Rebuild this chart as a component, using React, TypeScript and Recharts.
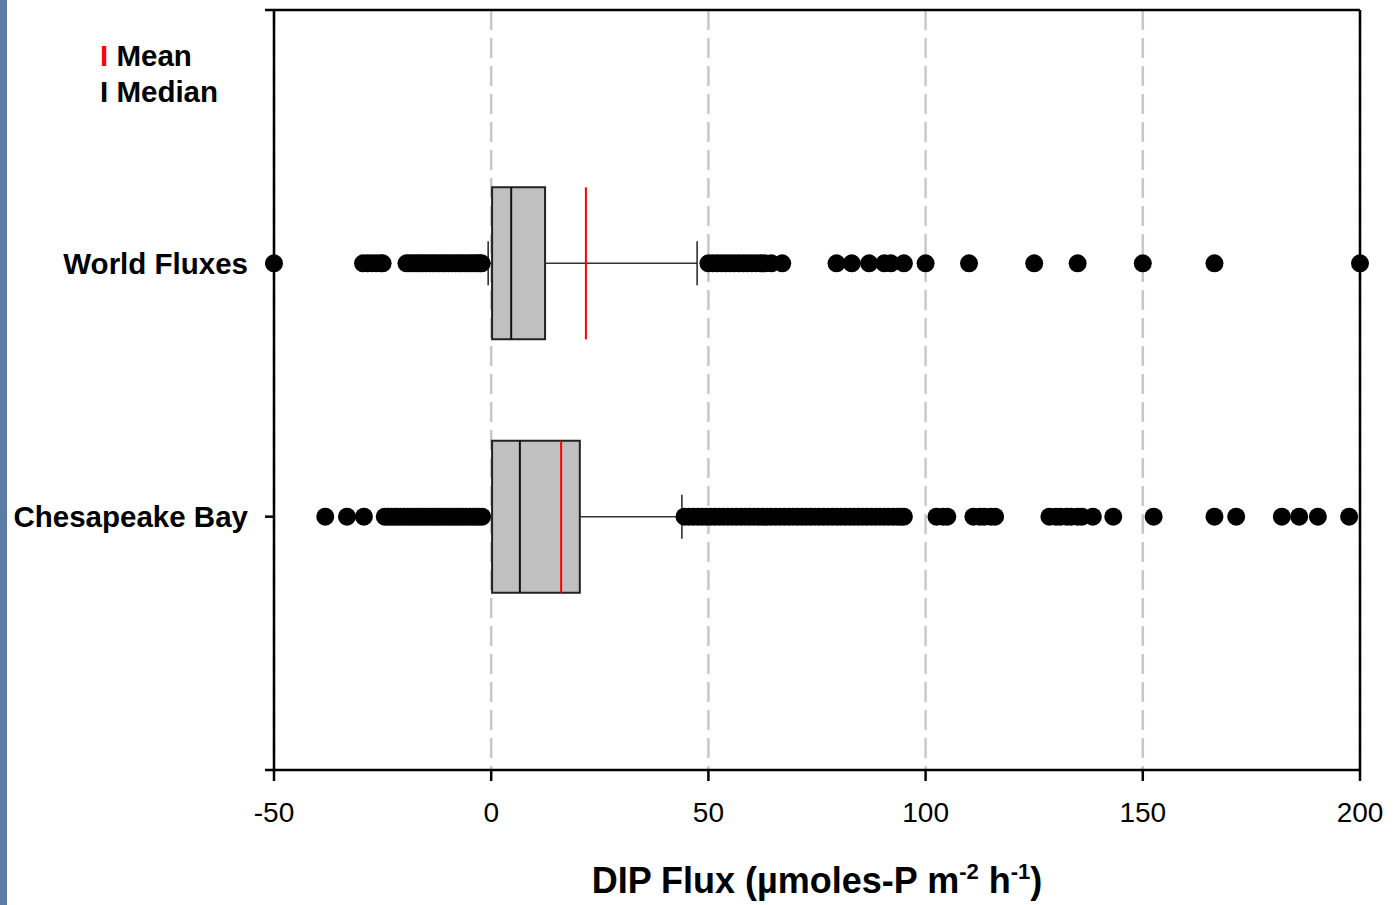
import { ScatterChart, Scatter, XAxis, YAxis, CartesianGrid, ReferenceArea, ReferenceLine, Label } from 'recharts';

const FONT = "'Liberation Sans', Arial, sans-serif";

// box plot summary, one entry per row
const CATEGORIES = ['World Fluxes', 'Chesapeake Bay'];
const ROWS = [1, 2];
const Q1 = [0.2, 0.2];
const MEDIAN = [4.6, 6.6];
const Q3 = [12.4, 20.4];
const MEAN = [21.8, 16.1];
const WHISKER_LOW = [-0.7, 0.2];
const WHISKER_HIGH = [47.4, 43.9];

const X_TICKS = [-50, 0, 50, 100, 150, 200];
const Y_TICKS = [0, 1, 2, 3];

// outliers (dense runs are many overlapping points)
const WORLD_OUTLIERS = [
  -50, -29.5, -28.5, -27.5, -26.5, -25.5, -25,
  -19.5, -18.8, -18, -17.2, -16.5, -15.8, -15, -14.2, -13.5, -12.8, -12, -11.2, -10.5, -9.8,
  -9, -8.2, -7.5, -6.8, -6, -5.2, -4.5, -3.8, -3.2, -2.6, -2.2,
  50, 51, 52, 53, 54, 55, 56, 57, 58, 59, 60, 61, 62, 63, 64.5, 67,
  79.5, 83, 87, 90.5, 92, 95, 100, 110, 125, 135, 150, 166.5, 200,
];
const CHESAPEAKE_OUTLIERS = [
  -38.2, -33.2, -29.3,
  -24.5, -23.8, -23, -22.2, -21.5, -20.8, -20, -19.2, -18.5, -17.8, -17, -16.2, -15.5, -14.8,
  -14, -13.2, -12.5, -11.8, -11, -10.2, -9.5, -8.8, -8, -7.2, -6.5, -5.8, -5, -4.2, -3.5, -2.8, -2.1,
  44.5, 45.5, 46.5, 47.5, 48.5, 49.5, 50.5, 51.5, 52.5, 53.5, 54.5, 55.5, 56.5, 57.5, 58.5, 59.5,
  60.5, 61.5, 62.5, 63.5, 64.5, 65.5, 66.5, 67.5, 68.5, 69.5, 70.5, 71.5, 72.5, 73.5, 74.5, 75.5,
  76.5, 77.5, 78.5, 79.5, 80.5, 81.5, 82.5, 83.5, 84.5, 85.5, 86.5, 87.5, 88.5, 89.5, 90.5, 91.5,
  92.5, 93.5, 94.3, 95,
  102.5, 104, 105, 111, 112.5, 113.5, 115, 116, 128.5, 130, 131, 132.5, 133.5, 135, 136, 138.5, 143.2,
  152.5, 166.5, 171.5, 182, 186, 190.3, 197.5,
];

const BOX_HALF = 0.3;
const CAP_HALF = 0.087;

const worldData = WORLD_OUTLIERS.map((x) => ({ x, y: ROWS[0] }));
const chesData = CHESAPEAKE_OUTLIERS.map((x) => ({ x, y: ROWS[1] }));

const Dot = (props: { cx?: number; cy?: number }) => (
  <circle cx={props.cx} cy={props.cy} r={9} fill="#000" />
);

const AxisTitle = ({ viewBox }: { viewBox?: { x: number; y: number; width: number } }) => {
  if (!viewBox) return null;
  const cx = viewBox.x + viewBox.width / 2;
  return (
    <text x={cx} y={viewBox.y + 123} textAnchor="middle" fontFamily={FONT} fontSize={36} fontWeight={700} fill="#000">
      DIP Flux (µmoles-P m
      <tspan fontSize={22} dy={-14}>-2</tspan>
      <tspan dy={14}> h</tspan>
      <tspan fontSize={22} dy={-14}>-1</tspan>
      <tspan dy={14}>)</tspan>
    </text>
  );
};

export default function App() {
  return (
    <div style={{ position: 'absolute', left: 0, top: 0, width: 1399, height: 905, background: '#fff', overflow: 'hidden' }}>
      <div style={{ position: 'absolute', left: 0, top: 0, width: 7, height: 905, background: '#5a7ba3' }} />
      <ScatterChart width={1399} height={905} margin={{ top: 10, right: 39, bottom: 0, left: 0 }}>
        <CartesianGrid horizontal={false} stroke="#c8c8c8" strokeWidth={2.5} strokeDasharray="20 8" />
        <XAxis
          type="number"
          dataKey="x"
          domain={[-50, 200]}
          ticks={X_TICKS}
          interval={0}
          height={135}
          tickSize={11}
          tickMargin={21}
          axisLine={{ stroke: '#000', strokeWidth: 2.5 }}
          tickLine={{ stroke: '#000', strokeWidth: 2.5 }}
          tick={{ fill: '#000', fontSize: 28, fontFamily: FONT }}
        >
          <Label content={<AxisTitle />} />
        </XAxis>
        <YAxis
          type="number"
          dataKey="y"
          domain={[0, 3]}
          reversed
          ticks={Y_TICKS}
          interval={0}
          width={274}
          tickSize={9}
          tickMargin={17}
          tickFormatter={(v: number) => CATEGORIES[v - 1] ?? ''}
          axisLine={{ stroke: '#000', strokeWidth: 2.5 }}
          tickLine={{ stroke: '#000', strokeWidth: 2.5 }}
          tick={{ fill: '#000', fontSize: 29.5, fontWeight: 700, fontFamily: FONT }}
        />
        <ReferenceLine y={0} stroke="#000" strokeWidth={2.5} />
        <ReferenceLine x={200} stroke="#000" strokeWidth={2.5} />

        <Scatter data={worldData} shape={<Dot />} isAnimationActive={false} />
        <Scatter data={chesData} shape={<Dot />} isAnimationActive={false} />

        {ROWS.map((row, i) => (
          <ReferenceLine
            key={`wh-${i}`}
            segment={[{ x: Q3[i], y: row }, { x: WHISKER_HIGH[i], y: row }]}
            stroke="#333"
            strokeWidth={1.5}
          />
        ))}
        {ROWS.map((row, i) => (
          <ReferenceLine
            key={`wl-${i}`}
            segment={[{ x: WHISKER_LOW[i], y: row }, { x: Q1[i], y: row }]}
            stroke="#333"
            strokeWidth={1.5}
          />
        ))}
        {ROWS.map((row, i) => (
          <ReferenceLine
            key={`ch-${i}`}
            segment={[{ x: WHISKER_HIGH[i], y: row - CAP_HALF }, { x: WHISKER_HIGH[i], y: row + CAP_HALF }]}
            stroke="#222"
            strokeWidth={1.5}
          />
        ))}
        {ROWS.map((row, i) =>
          WHISKER_LOW[i] < Q1[i] ? (
            <ReferenceLine
              key={`cl-${i}`}
              segment={[{ x: WHISKER_LOW[i], y: row - CAP_HALF }, { x: WHISKER_LOW[i], y: row + CAP_HALF }]}
              stroke="#222"
              strokeWidth={1.5}
            />
          ) : null
        )}
        {ROWS.map((row, i) => (
          <ReferenceArea
            key={`box-${i}`}
            x1={Q1[i]}
            x2={Q3[i]}
            y1={row - BOX_HALF}
            y2={row + BOX_HALF}
            fill="#c0c0c0"
            fillOpacity={1}
            stroke="#222"
            strokeWidth={2}
          />
        ))}
        {ROWS.map((row, i) => (
          <ReferenceLine
            key={`med-${i}`}
            segment={[{ x: MEDIAN[i], y: row - BOX_HALF }, { x: MEDIAN[i], y: row + BOX_HALF }]}
            stroke="#111"
            strokeWidth={2}
          />
        ))}
        {ROWS.map((row, i) => (
          <ReferenceLine
            key={`mean-${i}`}
            segment={[{ x: MEAN[i], y: row - BOX_HALF }, { x: MEAN[i], y: row + BOX_HALF }]}
            stroke="#ff0000"
            strokeWidth={2}
          />
        ))}
      </ScatterChart>
      <div
        style={{
          position: 'absolute',
          left: 100,
          top: 38,
          fontFamily: FONT,
          fontSize: 29.5,
          fontWeight: 700,
          lineHeight: '36px',
          color: '#000',
          whiteSpace: 'pre',
        }}
      >
        <div>
          <span style={{ color: '#ff0000' }}>I</span> Mean
        </div>
        <div>
          <span>I</span> Median
        </div>
      </div>
    </div>
  );
}
